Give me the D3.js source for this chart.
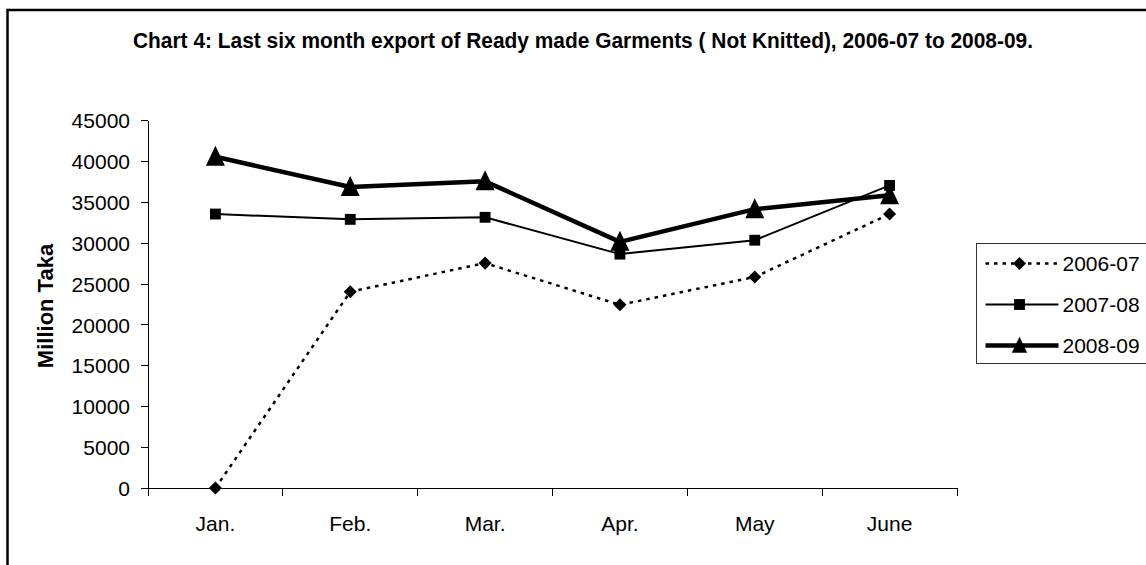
<!DOCTYPE html>
<meta charset="utf-8">
<style>
body { margin: 0; background: #fff; }
text { font-family: "Liberation Sans", Arial, sans-serif; fill: #000; }
.axis path, .axis line { stroke: #000; stroke-width: 1px; shape-rendering: crispEdges; }
.axis text { font-size: 21px; font-family: "Liberation Sans", Arial, sans-serif; fill: #000; }
</style>
<svg width="1146" height="565"></svg>
<script src="https://d3js.org/d3.v7.min.js"></script>
<script>

// chart data
var months = ["Jan.", "Feb.", "Mar.", "Apr.", "May", "June"];
var seriesNames = ["2006-07", "2007-08", "2008-09"];
var values0607 = [0, 24000, 27500, 22400, 25800, 33500];
var values0708 = [33500, 32850, 33100, 28600, 30300, 37000];
var values0809 = [40500, 36800, 37500, 30100, 34100, 35800];
var yTicks = [0, 5000, 10000, 15000, 20000, 25000, 30000, 35000, 40000, 45000];

var svg = d3.select("svg");

// plot box
var plotLeft = 148, plotRight = 957, plotTop = 120, plotBottom = 488;

var x = d3.scaleBand().domain(months).range([plotLeft, plotRight]);
var y = d3.scaleLinear().domain([0, 45000]).range([plotBottom, plotTop]);

// outer frame (only top and left visible)
svg.append("rect")
   .attr("x", 7.5)
   .attr("y", 10)
   .attr("width", 1300)
   .attr("height", 700)
   .style("fill", "none")
   .style("stroke", "#000")
   .style("stroke-width", 2.5);

// title
svg.append("text")
   .attr("x", 583)
   .attr("y", 48)
   .attr("text-anchor", "middle")
   .attr("textLength", 900)
   .attr("lengthAdjust", "spacingAndGlyphs")
   .style("font-size", "22px")
   .style("font-weight", "bold")
   .text("Chart 4: Last six month export of Ready made Garments ( Not Knitted), 2006-07 to 2008-09.");

// y axis
svg.append("g")
   .attr("class", "axis")
   .attr("transform", "translate(" + plotLeft + ",0)")
   .call(d3.axisLeft(y).tickValues(yTicks).tickFormat(d3.format("d"))
           .tickSize(7).tickPadding(11).tickSizeOuter(0))
   .selectAll("text").attr("dy", "0.36em");

svg.append("text")
   .attr("transform", "translate(53,306) rotate(-90)")
   .attr("text-anchor", "middle")
   .style("font-size", "22px")
   .style("font-weight", "bold")
   .text("Million Taka");

// x axis: labels at band centres, ticks at band edges
var xAxis = svg.append("g")
   .attr("class", "axis")
   .attr("transform", "translate(0," + plotBottom + ")")
   .call(d3.axisBottom(x).tickSize(0).tickPadding(28).tickSizeOuter(0));

var edges = months.map(function(m) { return x(m); }).concat([x.range()[1]]);
xAxis.selectAll(".edge")
   .data(edges)
   .enter().append("line")
   .attr("x1", function(d) { return d; })
   .attr("x2", function(d) { return d; })
   .attr("y1", 0)
   .attr("y2", 8);

// custom triangle, a bit taller than equilateral
var tallTriangle = {
  draw: function(ctx, size) {
    var s = Math.sqrt(size) / 20;
    ctx.moveTo(0, -11 * s);
    ctx.lineTo(9.5 * s, 9 * s);
    ctx.lineTo(-9.5 * s, 9 * s);
    ctx.closePath();
  }
};

var styles = [
  { values: values0607, width: 2.5, dash: "3.5,5", symbol: d3.symbolSquare, size: 85, rotate: 45 },
  { values: values0708, width: 2, dash: null, symbol: d3.symbolSquare, size: 118, rotate: 0 },
  { values: values0809, width: 4.5, dash: null, symbol: tallTriangle, size: 400, rotate: 0 }
];

var cx = function(d, i) { return x(months[i]) + x.bandwidth() / 2; };

var line = d3.line()
   .x(cx)
   .y(function(d) { return y(d); });

styles.forEach(function(s) {
  svg.append("path")
     .datum(s.values)
     .attr("d", line)
     .style("fill", "none")
     .style("stroke", "#000")
     .style("stroke-width", s.width)
     .style("stroke-dasharray", s.dash)
     .style("stroke-linejoin", "round");

  svg.selectAll(null)
     .data(s.values)
     .enter().append("path")
     .attr("d", d3.symbol(s.symbol, s.size))
     .attr("transform", function(d, i) {
        return "translate(" + cx(d, i) + "," + y(d) + ") rotate(" + s.rotate + ")";
     })
     .style("fill", "#000");
});

// legend
var legend = svg.append("g").attr("transform", "translate(976.5,243.5)");

legend.append("rect")
   .attr("width", 300)
   .attr("height", 120)
   .style("fill", "#fff")
   .style("stroke", "#333")
   .style("stroke-width", 1);

seriesNames.forEach(function(name, i) {
  var s = styles[i];
  var row = legend.append("g").attr("transform", "translate(0," + (20 + i * 41) + ")");

  row.append("line")
     .attr("x1", 9)
     .attr("x2", 82)
     .style("stroke", "#000")
     .style("stroke-width", s.width)
     .style("stroke-dasharray", s.dash);

  row.append("path")
     .attr("d", d3.symbol(s.symbol, i == 2 ? 260 : s.size))
     .attr("transform", "translate(43,0) rotate(" + s.rotate + ")")
     .style("fill", "#000");

  row.append("text")
     .attr("x", 86)
     .attr("dy", "0.36em")
     .style("font-size", "21px")
     .text(name);
});

</script>
